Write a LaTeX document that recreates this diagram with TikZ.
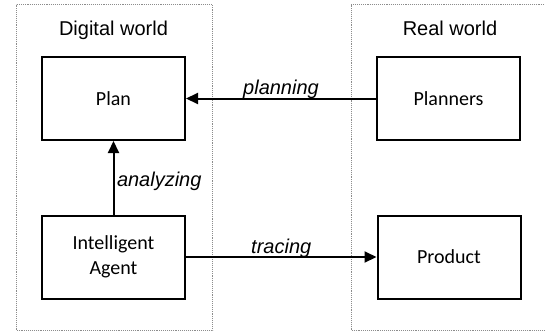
\documentclass[tikz,border=0pt]{standalone}
\usepackage{fontspec}
\setmainfont{Liberation Sans}
\newfontfamily\boxfont{Carlito}
\usetikzlibrary{arrows.meta,positioning}

\begin{document}
\begin{tikzpicture}[x=1pt,y=-1pt,
  every node/.style={font=\fontsize{20}{25}\selectfont},
  world/.style={draw=black!45,densely dotted,line width=0.9pt},
  block/.style={draw,line width=2pt,minimum width=143pt,minimum height=83pt,align=center,font=\boxfont\fontsize{20}{25}\selectfont},
  link/.style={line width=2pt,-{Triangle[length=12pt,width=11pt]}},
  lbl/.style={inner sep=0pt,font=\itshape\fontsize{20}{25}\selectfont}]
\useasboundingbox (0,0) rectangle (545,332);
% the two worlds
\draw [world] (16,4.5) rectangle (212.5,330.5);
\draw [world] (351,4.5) rectangle (550,330.5);
\node [anchor=base] (digital) at (113.5,35.3) {Digital world};
\node [anchor=base] (real) at (450,35.3) {Real world};
% blocks
\node [block] (plan) at (113.5,98.5) {Plan};
\node [block] (planners) at (448.5,98.5) {Planners};
\node [block] (agent) at (113.5,257) {Intelligent\\Agent};
\node [block] (product) at (449,257) {Product};
% links
\draw [link] (planners) -- node [lbl,anchor=base,yshift=4.5pt] {planning} (plan);
\draw [link] (agent) -- node [lbl,pos=0.384,anchor=base west,xshift=2.5pt] {analyzing} (plan);
\draw [link] (agent) -- node [lbl,anchor=base,yshift=4pt] {tracing} (product);
\end{tikzpicture}
\end{document}
